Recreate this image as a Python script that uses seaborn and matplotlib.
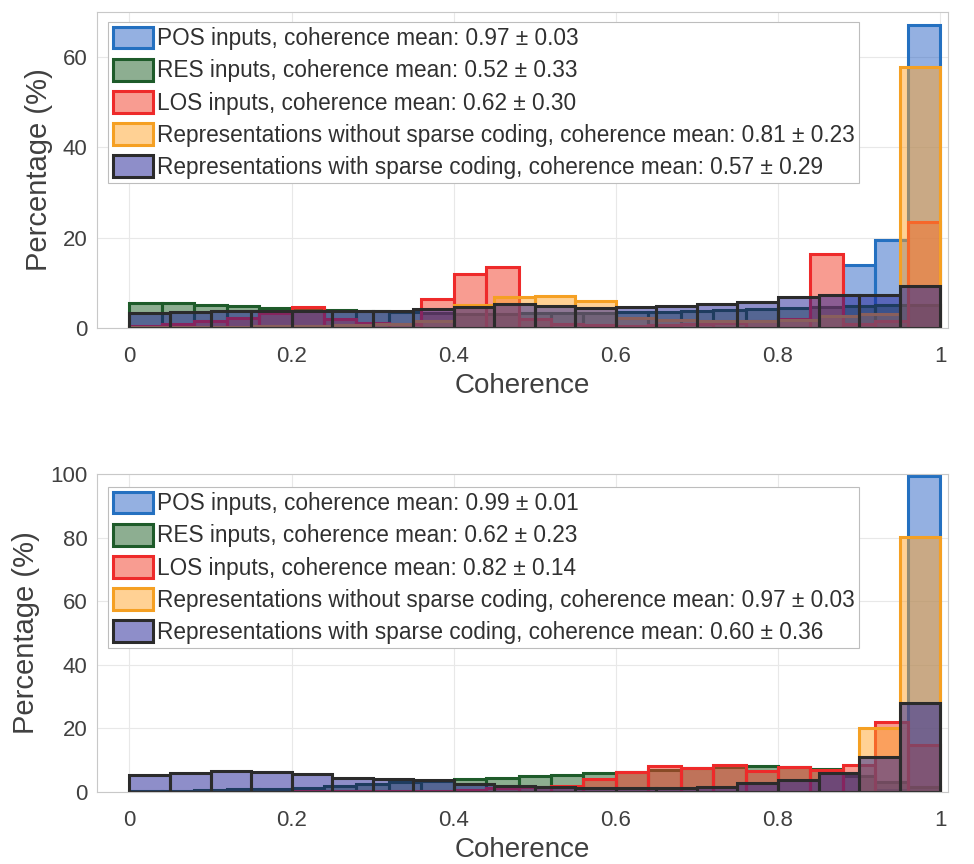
import numpy as np
import pandas as pd
import matplotlib
matplotlib.use("Agg")
import matplotlib.pyplot as plt
import seaborn as sns

# bin edges: inputs use 0.04 wide bins, representations 0.05 wide bins
edges_in = np.linspace(0, 1, 26)
edges_rep = np.linspace(0, 1, 21)

labels_top = [
    "POS inputs, coherence mean: 0.97 \u00b1 0.03",
    "RES inputs, coherence mean: 0.52 \u00b1 0.33",
    "LOS inputs, coherence mean: 0.62 \u00b1 0.30",
    "Representations without sparse coding, coherence mean: 0.81 \u00b1 0.23",
    "Representations with sparse coding, coherence mean: 0.57 \u00b1 0.29",
]
labels_bot = [
    "POS inputs, coherence mean: 0.99 \u00b1 0.01",
    "RES inputs, coherence mean: 0.62 \u00b1 0.23",
    "LOS inputs, coherence mean: 0.82 \u00b1 0.14",
    "Representations without sparse coding, coherence mean: 0.97 \u00b1 0.03",
    "Representations with sparse coding, coherence mean: 0.60 \u00b1 0.36",
]

# top panel (percentages per bin)
pos_top = [0, 0, 0, 0, 0, 0, 0, 0, 0, 0, 0, 0, 0, 0, 0, 0, 0, 0, 0, 0, 0, 0, 14.0, 19.6, 67.1]
res_top = [5.6, 5.5, 5.0, 4.9, 4.5, 4.3, 4.0, 3.7, 3.5, 3.3, 3.2, 3.2, 3.3,
           3.3, 3.4, 3.5, 3.6, 3.8, 4.0, 4.2, 4.4, 4.6, 4.9, 5.2, 5.0]
los_top = [0.5, 0.8, 1.5, 2.2, 3.4, 4.6, 2.0, 1.2, 0.8, 6.4, 11.9, 13.6, 2.0,
           0.8, 0.6, 0.5, 0.6, 0.8, 1.0, 1.5, 2.0, 16.4, 0.8, 1.5, 23.4]
nosparse_top = [0.3, 0.3, 0.3, 0.4, 0.5, 0.6, 0.8, 1.5, 5.1, 6.8, 7.1, 6.0,
                2.3, 1.8, 1.6, 1.6, 1.8, 2.6, 3.0, 57.8]
sparse_top = [3.4, 3.6, 3.8, 3.8, 3.8, 3.8, 3.8, 4.1, 4.6, 5.3, 4.9, 4.4,
              4.6, 4.9, 5.3, 5.8, 6.8, 7.2, 7.3, 9.2]

# bottom panel
pos_bot = [0, 0, 0, 0, 0, 0, 0, 0, 0, 0, 0, 0, 0, 0, 0, 0, 0, 0, 0, 0, 0, 0, 0, 0.5, 99.5]
res_bot = [0.3, 0.4, 0.6, 0.8, 1.0, 1.3, 1.8, 2.5, 3.0, 3.6, 4.0, 4.5, 5.0,
           5.4, 5.9, 6.3, 7.0, 7.5, 8.0, 8.2, 7.8, 7.4, 5.0, 3.0, 1.5]
los_bot = [0.1, 0.1, 0.1, 0.1, 0.1, 0.2, 0.2, 0.2, 0.3, 0.3, 0.5, 1.2, 1.5,
           2.0, 4.0, 6.4, 8.2, 7.6, 8.5, 6.7, 8.0, 6.9, 8.5, 22.1, 14.8]
nosparse_bot = [0, 0, 0, 0, 0, 0, 0, 0, 0, 0, 0, 0, 0, 0, 0, 0, 0, 0, 20.0, 80.1]
sparse_bot = [5.3, 5.9, 6.6, 6.4, 5.6, 4.5, 4.2, 3.8, 2.6, 1.9, 1.5, 1.2,
              1.2, 1.2, 1.7, 2.7, 3.8, 6.1, 11.1, 27.9]

faces = ["#2a62c4", "#1d5e24", "#f23a24", "#ffa42a", "#1f1f95"]
edges = ["#2470c0", "#1e5b2a", "#ee2a2a", "#f5a023", "#2b2b2b"]

sns.set_style("white")
plt.rcParams["font.family"] = ["Liberation Sans", "DejaVu Sans"]
txt = "#404040"

fig = plt.figure(figsize=(9.74, 8.64), dpi=100)
ax_top = fig.add_axes([0.0996, 0.6204, 0.874, 0.3657])
ax_bot = fig.add_axes([0.0996, 0.0833, 0.874, 0.368])


def draw(ax, series, labels, ylim, yticks, leg_top):
    for i, (vals, bins) in enumerate(series):
        centers = (bins[:-1] + bins[1:]) / 2
        df = pd.DataFrame({"c": centers, "w": vals})
        sns.histplot(data=df, x="c", weights="w", bins=list(bins), stat="count",
                     ax=ax, label=labels[i], linewidth=2.2)
        bars = ax.containers[-1]
        for p in bars:
            p.set_facecolor(matplotlib.colors.to_rgba(faces[i], 0.5))
            p.set_edgecolor(edges[i])
    ax.set_xlim(-0.04, 1.01)
    ax.set_ylim(*ylim)
    ax.set_xticks([0, 0.2, 0.4, 0.6, 0.8, 1])
    ax.set_xticklabels(["0", "0.2", "0.4", "0.6", "0.8", "1"])
    ax.set_yticks(yticks)
    ax.grid(True, color="#e8e8e8", linewidth=0.8)
    ax.set_axisbelow(True)
    for s in ax.spines.values():
        s.set_color("#c8c8c8")
        s.set_linewidth(0.8)
    ax.tick_params(direction="in", length=4, color="#a0a0a0", labelsize=16,
                   labelcolor=txt)
    ax.tick_params(axis="x", pad=13)
    ax.tick_params(axis="y", pad=7)
    ax.set_xlabel("Coherence", fontsize=20, color=txt, labelpad=4)
    ax.set_ylabel("Percentage (%)", fontsize=21, color=txt, labelpad=7)
    leg = ax.legend(loc="upper left", bbox_to_anchor=(0.013, leg_top), fontsize=16.3,
                    frameon=True, fancybox=False, framealpha=1, edgecolor="#bdbdbd",
                    handlelength=1.8, handleheight=1.1, handletextpad=0.14,
                    borderpad=0.2, labelspacing=0.38, borderaxespad=0)
    for t in leg.get_texts():
        t.set_color("#303030")
    leg.get_frame().set_linewidth(0.8)


draw(ax_top, [(pos_top, edges_in), (res_top, edges_in), (los_top, edges_in),
              (nosparse_top, edges_rep), (sparse_top, edges_rep)],
     labels_top, (0, 70), [0, 20, 40, 60], 0.968)
draw(ax_bot, [(pos_bot, edges_in), (res_bot, edges_in), (los_bot, edges_in),
              (nosparse_bot, edges_rep), (sparse_bot, edges_rep)],
     labels_bot, (0, 100), [0, 20, 40, 60, 80, 100], 0.959)

fig.savefig("out.png", dpi=100)
